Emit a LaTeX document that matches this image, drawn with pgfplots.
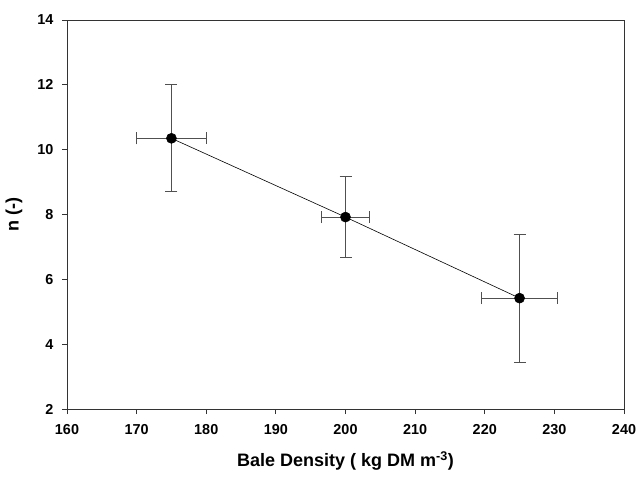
\documentclass[border=0pt]{standalone}
\usepackage{fontspec}
\setmainfont{Liberation Sans}
\usepackage{pgfplots}
\pgfplotsset{compat=1.18}
\definecolor{cBar}{RGB}{80,80,80}

\begin{document}
\begin{tikzpicture}
\begin{axis}[
    scale only axis,
    width=557pt, height=389pt,
    xmin=160, xmax=240, ymin=2, ymax=14,
    xtick={160,170,...,240}, ytick={2,4,...,14},
    tick align=outside, tick pos=left,
    major tick length=5pt,
    axis line style={black!80, line width=0.9pt},
    tick style={black!80, line width=0.9pt},
    /pgf/number format/assume math mode=true,
    ticklabel style={font=\fontsize{14.4}{16}\selectfont\bfseries},
    yticklabel style={xshift=-5pt},
    xticklabel style={yshift=-7pt, inner xsep=0pt},
    xlabel={Bale Density ( kg DM m\textsuperscript{-3})},
    ylabel={n (-)},
    every axis x label/.style={at={(axis description cs:0.5,0)}, yshift=-52pt, anchor=center},
    every axis y label/.style={at={(axis description cs:0,0.5)}, xshift=-53pt, rotate=90, anchor=center},
    label style={font=\fontsize{18}{20}\selectfont\bfseries},
]
\addplot[black, line width=0.6pt, mark=*, mark size=5pt,
    error bars/.cd, x dir=both, x explicit, y dir=both, y explicit,
    error bar style={cBar, line width=0.9pt},
    error mark options={rotate=90, mark size=6pt, cBar, line width=0.9pt}]
coordinates {
    (175,10.35) +- (5,1.65)
    (200,7.92) +- (3.5,1.25)
    (225,5.42) +- (5.5,1.97)
};
\end{axis}
\path ([shift={(-67pt,-67pt)}]current axis.south west)
      ([shift={(13pt,20pt)}]current axis.north east);
\end{tikzpicture}
\end{document}
